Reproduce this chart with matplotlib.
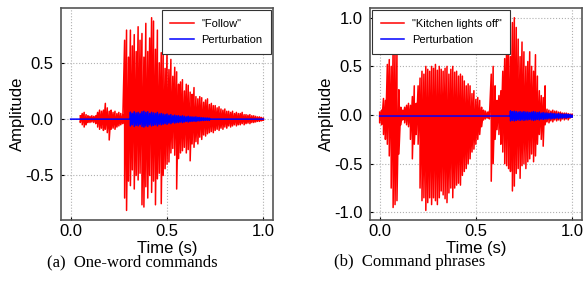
import numpy as np
import matplotlib
matplotlib.use("Agg")
import matplotlib.pyplot as plt

plt.rcParams['font.family'] = ['Liberation Sans', 'DejaVu Sans']
plt.rcParams['axes.unicode_minus'] = False

# envelope of the recorded waveforms, one value every 10 ms (upper / lower peak)
follow_start = 0.05
follow_upper = [0.03, 0.05, 0.06, 0.04, 0.03, 0.025, 0.03, 0.025, 0.03, 0.06,
                0.08, 0.07, 0.08, 0.14, 0.10, 0.07, 0.08, 0.06, 0.07, 0.05,
                0.06, 0.05, 0.04, 0.70, 0.79, 0.55, 0.79, 0.65, 0.75, 0.60,
                0.82, 0.70, 0.76, 0.55, 0.85, 0.60, 0.72, 0.90, 0.87, 0.62,
                0.79, 0.50, 0.59, 0.62, 0.45, 0.60, 0.44, 0.53, 0.38, 0.46,
                0.42, 0.31, 0.33, 0.35, 0.25, 0.31, 0.30, 0.24, 0.22, 0.28,
                0.20, 0.18, 0.20, 0.19, 0.15, 0.17, 0.18, 0.13, 0.14, 0.12,
                0.12, 0.10, 0.11, 0.09, 0.08, 0.09, 0.07, 0.07, 0.06, 0.07,
                0.05, 0.06, 0.05, 0.05, 0.06, 0.04, 0.04, 0.035, 0.04, 0.03,
                0.03, 0.025, 0.02, 0.02, 0.015, 0.01]
follow_lower = [-0.03, -0.05, -0.07, -0.05, -0.03, -0.03, -0.025, -0.03, -0.04, -0.07,
                -0.09, -0.08, -0.10, -0.09, -0.12, -0.185, -0.09, -0.08, -0.09, -0.07,
                -0.06, -0.05, -0.04, -0.70, -0.81, -0.55, -0.59, -0.45, -0.62, -0.50,
                -0.54, -0.48, -0.76, -0.78, -0.60, -0.70, -0.50, -0.65, -0.55, -0.76,
                -0.53, -0.48, -0.75, -0.50, -0.44, -0.40, -0.38, -0.30, -0.26, -0.32,
                -0.62, -0.35, -0.30, -0.28, -0.25, -0.30, -0.27, -0.37, -0.22, -0.25,
                -0.20, -0.22, -0.16, -0.18, -0.14, -0.15, -0.13, -0.12, -0.11, -0.12,
                -0.10, -0.09, -0.10, -0.08, -0.09, -0.07, -0.08, -0.06, -0.07, -0.06,
                -0.05, -0.06, -0.05, -0.05, -0.04, -0.05, -0.04, -0.035, -0.04, -0.03,
                -0.03, -0.025, -0.02, -0.02, -0.015, -0.01]
follow_pert_start = 0.31
follow_pert_amp = [0.06, 0.05, 0.065, 0.055, 0.06, 0.05, 0.065, 0.07, 0.06, 0.065,
                   0.05, 0.06, 0.055, 0.05, 0.06, 0.045, 0.05, 0.045, 0.04, 0.045,
                   0.035, 0.04, 0.03, 0.035, 0.03, 0.03, 0.025, 0.03, 0.025, 0.02,
                   0.025, 0.02, 0.02, 0.018, 0.02, 0.015, 0.015, 0.012, 0.012, 0.01,
                   0.01, 0.008]
follow_pert_dc = 0.0

kitchen_start = 0.0
kitchen_upper = [0.03, 0.05, 0.17, 0.15, 0.52, 0.57, 0.50, 0.69, 0.70, 0.65,
                 0.26, 0.08, 0.05, 0.08, 0.10, 0.12, 0.10, 0.19, 0.30, 0.12,
                 0.30, 0.38, 0.45, 0.42, 0.50, 0.47, 0.45, 0.50, 0.48, 0.52,
                 0.46, 0.50, 0.47, 0.45, 0.48, 0.50, 0.42, 0.47, 0.50, 0.44,
                 0.45, 0.40, 0.42, 0.40, 0.35, 0.30, 0.32, 0.30, 0.22, 0.25,
                 0.16, 0.18, 0.15, 0.08, 0.05, 0.04, 0.03, 0.04, 0.42, 0.50,
                 0.30, 0.15, 0.20, 0.25, 0.45, 0.58, 0.70, 0.85, 0.60, 0.95,
                 1.00, 0.90, 0.78, 0.60, 0.75, 0.65, 0.50, 0.55, 0.65, 0.50,
                 0.45, 0.62, 0.40, 0.25, 0.20, 0.18, 0.30, 0.06, 0.05, 0.04,
                 0.05, 0.04, 0.04, 0.03, 0.03, 0.02, 0.02, 0.02, 0.015, 0.01,
                 0.01]
kitchen_lower = [-0.08, -0.10, -0.20, -0.25, -0.30, -0.42, -0.75, -0.95, -0.92, -0.88,
                 -0.40, -0.10, -0.05, -0.08, -0.10, -0.12, -0.25, -0.45, -0.30, -0.20,
                 -0.30, -0.75, -0.88, -0.85, -0.98, -0.90, -0.85, -0.92, -0.85, -0.88,
                 -0.92, -0.85, -0.78, -0.82, -0.86, -0.90, -0.80, -0.75, -0.85, -0.75,
                 -0.72, -0.70, -0.72, -0.62, -0.58, -0.55, -0.50, -0.45, -0.38, -0.35,
                 -0.30, -0.25, -0.20, -0.12, -0.05, -0.04, -0.03, -0.04, -0.68, -0.50,
                 -0.25, -0.15, -0.20, -0.30, -0.38, -0.50, -0.52, -0.55, -0.58, -0.78,
                 -0.73, -0.60, -0.55, -0.65, -0.52, -0.50, -0.55, -0.48, -0.45, -0.40,
                 -0.48, -0.42, -0.30, -0.20, -0.25, -0.32, -0.10, -0.07, -0.08, -0.06,
                 -0.07, -0.05, -0.06, -0.05, -0.06, -0.04, -0.05, -0.04, -0.05, -0.03,
                 -0.02]
kitchen_pert_start = 0.68
kitchen_pert_amp = [0.05, 0.045, 0.05, 0.045, 0.04, 0.045, 0.04, 0.045, 0.04, 0.04,
                    0.035, 0.04, 0.045, 0.04, 0.035, 0.04, 0.03, 0.035, 0.03, 0.03,
                    0.025, 0.03, 0.025, 0.025, 0.02, 0.025, 0.02, 0.02, 0.018, 0.02,
                    0.015, 0.015, 0.01]
kitchen_pert_dc = -0.01

step = 0.01
panels = [
    dict(label='"Follow"', start=follow_start, upper=follow_upper, lower=follow_lower,
         pstart=follow_pert_start, pamp=follow_pert_amp, dc=follow_pert_dc,
         yticks=[-0.5, 0.0, 0.5], loc='upper right', caption='(a)  One-word commands'),
    dict(label='"Kitchen lights off"', start=kitchen_start, upper=kitchen_upper, lower=kitchen_lower,
         pstart=kitchen_pert_start, pamp=kitchen_pert_amp, dc=kitchen_pert_dc,
         yticks=[-1.0, -0.5, 0.0, 0.5, 1.0], loc='upper left', caption='(b)  Command phrases'),
]


def strokes(start, upper, lower):
    # one vertical stroke per 10 ms: upper peak then lower peak at the same time
    y = np.column_stack([upper, lower]).ravel()
    t = np.repeat(start + step * np.arange(len(upper)), 2)
    return t, y


fig = plt.figure(figsize=(5.84, 2.99), dpi=100)
rects = [[0.1045, 0.264, 0.363, 0.709], [0.6336, 0.264, 0.3624, 0.709]]
caption_x = [0.226, 0.702]

for p, rect, cx in zip(panels, rects, caption_x):
    ax = fig.add_axes(rect)
    t, y = strokes(p['start'], p['upper'], p['lower'])
    ax.plot(t, y, color='red', lw=1.1, label=p['label'])

    amp = np.array(p['pamp'])
    tp, yp = strokes(p['pstart'], p['dc'] + amp, p['dc'] - amp)
    # silent part of the perturbation before / after the active span
    tb = np.concatenate([[0.0, p['pstart']], tp, [tp[-1], 1.0]])
    yb = np.concatenate([[p['dc'], p['dc']], yp, [p['dc'], p['dc']]])
    ax.plot(tb, yb, color='blue', lw=1.1, label='Perturbation')

    ax.set_xlim(-0.05, 1.05)
    ax.set_xticks([0.0, 0.5, 1.0])
    ax.set_yticks(p['yticks'])
    ax.grid(True, color='#b0b0b0', ls=':', lw=0.8)
    ax.tick_params(direction='in', length=2.5, width=0.8, labelsize=12)
    ax.tick_params(axis='y', pad=5.5)
    ax.tick_params(axis='x', pad=3)
    for s in ax.spines.values():
        s.set_color('#555555')
        s.set_linewidth(1.2)
    ax.set_xlabel('Time (s)', fontsize=12, labelpad=1)
    ax.set_ylabel('Amplitude', fontsize=12, labelpad=0)
    leg = ax.legend(loc=p['loc'], fontsize=8, fancybox=False, framealpha=1,
                    edgecolor='#333333', borderaxespad=0.2, handlelength=2.1,
                    handletextpad=0.7, borderpad=0.75, labelspacing=0.6)
    leg.get_frame().set_linewidth(0.8)
    fig.text(cx, 0.123, p['caption'], ha='center', va='center', fontsize=12,
             family=['Liberation Serif', 'DejaVu Serif'])

fig.savefig('out.png', dpi=100)
